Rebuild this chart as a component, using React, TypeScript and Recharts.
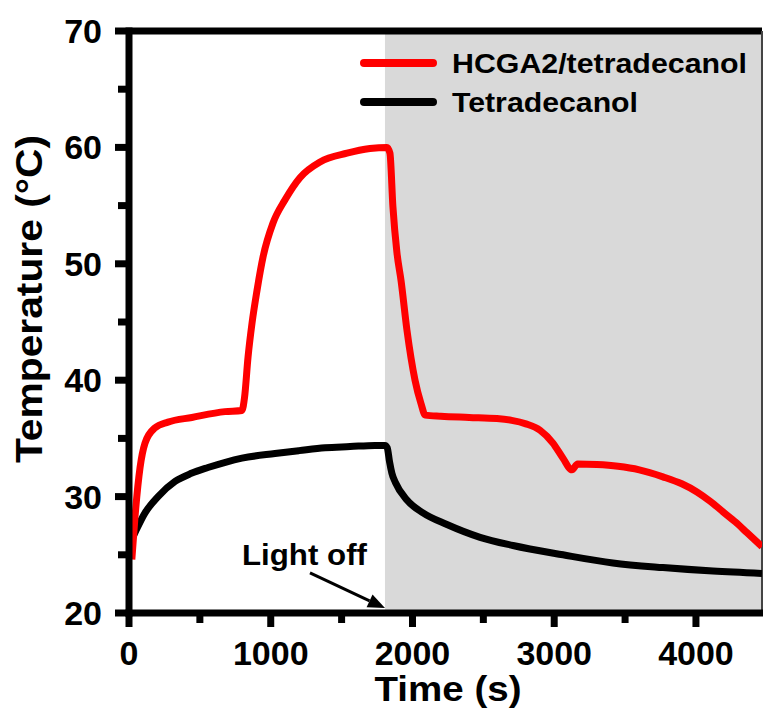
import React from 'react';
import {
  LineChart,
  Line,
  XAxis,
  YAxis,
  ReferenceArea,
  ReferenceLine,
  ReferenceDot,
  Legend,
} from 'recharts';

// HCGA2/tetradecanol curve (time in s, temperature in °C)
const redTime = [
  20, 42, 78, 113, 183, 275, 444, 677, 797, 815, 840, 868, 903, 946, 1016, 1101, 1206, 1348, 1538, 1700,
  1820, 1841, 1862, 1890, 1920, 1961, 2018, 2060, 2090, 2200, 2400, 2596, 2700, 2800, 2900, 2991, 3062,
  3125, 3165, 3301, 3450, 3600, 3767, 3900, 4007, 4100, 4190, 4280, 4360, 4466,
];
const redTemp = [
  24.6, 28.2, 32.5, 34.6, 35.9, 36.4, 36.8, 37.3, 37.4, 38.5, 42.0, 44.9, 47.7, 50.6, 53.5, 55.5, 57.4,
  58.75, 59.5, 59.9, 60.0, 59.5, 54.9, 51.0, 48.5, 44.3, 40.0, 38.0, 37.0, 36.9, 36.8, 36.7, 36.55, 36.25,
  35.7, 34.6, 33.3, 32.3, 32.8, 32.75, 32.6, 32.3, 31.7, 31.1, 30.4, 29.6, 28.7, 27.8, 26.9, 25.7,
];

// Tetradecanol curve
const blackTime = [
  0, 42, 113, 205, 325, 440, 557, 680, 797, 1030, 1200, 1383, 1560, 1735, 1806, 1822, 1838, 1855, 1880,
  1961, 2074, 2243, 2477, 2709, 3062, 3414, 3767, 4120, 4466,
];
const blackTemp = [
  25.8, 26.9, 28.6, 30.0, 31.3, 32.0, 32.5, 32.95, 33.3, 33.7, 33.95, 34.2, 34.3, 34.4, 34.4, 34.2, 33.0,
  32.0, 31.2, 29.7, 28.6, 27.6, 26.5, 25.8, 25.0, 24.3, 23.9, 23.6, 23.4,
];

const seriesNames = ['HCGA2/tetradecanol', 'Tetradecanol'];
const seriesColors = ['#ff0000', '#000000'];

const xTicks = [0, 500, 1000, 1500, 2000, 2500, 3000, 3500, 4000];
const yTicks = [20, 25, 30, 35, 40, 45, 50, 55, 60, 65, 70];
const xMax = 4466;
const lightOff = 1806;

const redData = redTime.map((t, i) => ({ t, v: redTemp[i] }));
const blackData = blackTime.map((t, i) => ({ t, v: blackTemp[i] }));

const FONT = '"Liberation Sans", Arial, Helvetica, sans-serif';

const XTick = (props: any) => {
  const { x, y, payload } = props;
  const major = payload.value % 1000 === 0;
  return (
    <g>
      <line x1={x} y1={y} x2={x} y2={y + (major ? 14 : 10)} stroke="#000" strokeWidth={7} />
      {major && (
        <text x={x} y={y + 52} textAnchor="middle" fontSize={34} fontWeight="bold" fontFamily={FONT} fill="#000">
          {payload.value}
        </text>
      )}
    </g>
  );
};

const YTick = (props: any) => {
  const { x, y, payload } = props;
  const major = payload.value % 10 === 0;
  return (
    <g>
      <line x1={x} y1={y} x2={x - (major ? 14 : 11)} y2={y} stroke="#000" strokeWidth={7} />
      {major && (
        <text x={x - 27} y={y + 12} textAnchor="end" fontSize={34} fontWeight="bold" fontFamily={FONT} fill="#000">
          {payload.value}
        </text>
      )}
    </g>
  );
};

const renderLegend = () => (
  <svg width={763} height={120} style={{ display: 'block' }}>
    {seriesNames.map((name, i) => (
      <g key={name}>
        <line
          x1={364}
          y1={63 + i * 39}
          x2={433}
          y2={63 + i * 39}
          stroke={seriesColors[i]}
          strokeWidth={8}
          strokeLinecap="round"
        />
        <text
          x={452}
          y={73 + i * 39}
          fontSize={28}
          fontWeight="bold"
          fontFamily={FONT}
          fill="#000"
          textLength={i === 0 ? 295 : 186}
          lengthAdjust="spacingAndGlyphs"
        >
          {name}
        </text>
      </g>
    ))}
  </svg>
);

const arrowShape = (p: any) => {
  const { x1, y1, x2, y2 } = p;
  const dx = x2 - x1;
  const dy = y2 - y1;
  const len = Math.sqrt(dx * dx + dy * dy);
  const ux = dx / len;
  const uy = dy / len;
  const hl = 17;
  const hw = 7;
  const bx = x2 - ux * hl;
  const by = y2 - uy * hl;
  return (
    <g>
      <line x1={x1} y1={y1} x2={bx} y2={by} stroke="#000" strokeWidth={3} />
      <polygon
        points={`${x2},${y2} ${bx - uy * hw},${by + ux * hw} ${bx + uy * hw},${by - ux * hw}`}
        fill="#000"
      />
    </g>
  );
};

const lightOffText = (p: any) => (
  <text
    x={p.cx}
    y={p.cy}
    textAnchor="middle"
    fontSize={30}
    fontWeight="bold"
    fontFamily={FONT}
    fill="#000"
    textLength={125}
    lengthAdjust="spacingAndGlyphs"
  >
    Light off
  </text>
);

const App: React.FC = () => {
  return (
    <div style={{ position: 'absolute', left: 0, top: 0, background: '#fff' }}>
      <LineChart width={763} height={717} margin={{ top: 31, right: 1, left: 0, bottom: 0 }}>
        <ReferenceArea x1={lightOff} x2={xMax} y1={20} y2={70} fill="#d9d9d9" fillOpacity={1} stroke="none" />
        <XAxis
          type="number"
          dataKey="t"
          domain={[0, xMax]}
          allowDataOverflow
          ticks={xTicks}
          interval={0}
          height={104}
          tickSize={0}
          tickMargin={0}
          tickLine={false}
          tick={<XTick />}
          axisLine={{ stroke: '#000', strokeWidth: 7, strokeLinecap: 'square' }}
          label={{
            content: () => (
              <text
                x={448}
                y={701}
                textAnchor="middle"
                fontSize={35}
                fontWeight="bold"
                fontFamily={FONT}
                fill="#000"
                textLength={147}
                lengthAdjust="spacingAndGlyphs"
              >
                Time (s)
              </text>
            ),
          }}
        />
        <YAxis
          type="number"
          domain={[20, 70]}
          allowDataOverflow
          ticks={yTicks}
          interval={0}
          width={129}
          tickSize={0}
          tickMargin={0}
          tickLine={false}
          tick={<YTick />}
          axisLine={{ stroke: '#000', strokeWidth: 7, strokeLinecap: 'square' }}
          label={{
            content: () => (
              <text
                x={42}
                y={299}
                transform="rotate(-90, 42, 299)"
                textAnchor="middle"
                fontSize={37}
                fontWeight="bold"
                fontFamily={FONT}
                fill="#000"
                textLength={328}
                lengthAdjust="spacingAndGlyphs"
              >
                Temperature (°C)
              </text>
            ),
          }}
        />
        <ReferenceLine y={70} stroke="#000" strokeWidth={7} />
        <ReferenceLine x={xMax} stroke="#444" strokeWidth={2} />
        <Line
          data={blackData}
          dataKey="v"
          name={seriesNames[1]}
          type="monotone"
          stroke={seriesColors[1]}
          strokeWidth={7}
          dot={false}
          isAnimationActive={false}
        />
        <Line
          data={redData}
          dataKey="v"
          name={seriesNames[0]}
          type="monotone"
          stroke={seriesColors[0]}
          strokeWidth={7}
          dot={false}
          isAnimationActive={false}
        />
        <ReferenceLine
          segment={[
            { x: 1277, y: 23.44 },
            { x: 1806, y: 20.43 },
          ]}
          shape={arrowShape}
        />
        <ReferenceDot x={1238} y={24.1} r={0} shape={lightOffText} />
        <Legend
          layout="vertical"
          align="center"
          verticalAlign="middle"
          content={renderLegend}
          wrapperStyle={{ position: 'absolute', left: 0, top: 0, width: 763, height: 120 }}
        />
      </LineChart>
    </div>
  );
};

export default App;
